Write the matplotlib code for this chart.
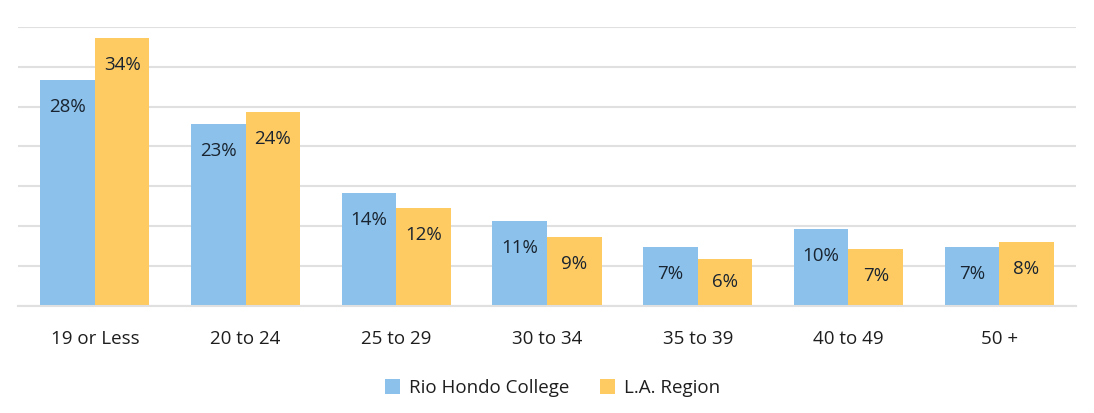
import matplotlib
matplotlib.use("Agg")
import matplotlib.pyplot as plt
import numpy as np

categories = ["19 or Less", "20 to 24", "25 to 29", "30 to 34", "35 to 39", "40 to 49", "50 +"]
rio_hondo = [28.3, 22.8, 14.2, 10.6, 7.3, 9.6, 7.3]
la_region = [33.6, 24.3, 12.3, 8.6, 5.8, 7.1, 8.0]
rio_labels = ["28%", "23%", "14%", "11%", "7%", "10%", "7%"]
la_labels = ["34%", "24%", "12%", "9%", "6%", "7%", "8%"]
series_names = ["Rio Hondo College", "L.A. Region"]

BLUE = "#8BC1EA"
GOLD = "#FECB63"
TEXT = "#1a2430"
GRID = "#e0e0e0"

plt.rcParams["font.family"] = ["Open Sans", "DejaVu Sans"]

fig = plt.figure(figsize=(10.94, 4.13), dpi=100)
W, H = 1094, 413
ax = fig.add_axes([18 / W, 1 - 305.5 / H, (1076 - 18) / W, (305.5 - 27) / H])

x = np.arange(len(categories))
bw = 0.362
b1 = ax.bar(x - bw / 2, rio_hondo, bw, color=BLUE, label=series_names[0], zorder=3)
b2 = ax.bar(x + bw / 2, la_region, bw, color=GOLD, label=series_names[1], zorder=3)

ax.set_xlim(-0.51, len(categories) - 1 + 0.51)
ax.set_ylim(0, 35)
ax.set_yticks(np.arange(0, 36, 5))
ax.yaxis.grid(True, color=GRID, linewidth=1.5, zorder=0)
ax.set_axisbelow(True)
ax.tick_params(axis="y", left=False, labelleft=False)
ax.tick_params(axis="x", length=0, pad=18, labelsize=13.5, labelcolor="#1e1e1e")
ax.set_xticks(x)
ax.set_xticklabels(categories)
for s in ["top", "right", "left"]:
    ax.spines[s].set_visible(False)
ax.spines["bottom"].set_color(GRID)
ax.spines["bottom"].set_linewidth(1.5)
ax.spines["bottom"].set_zorder(4)

px_per_unit = (305.5 - 27) / 35.0
for bars, labels in ((b1, rio_labels), (b2, la_labels)):
    for rect, lab in zip(bars, labels):
        h = rect.get_height()
        off = min(27, h * px_per_unit / 2)
        ax.annotate(lab, (rect.get_x() + rect.get_width() / 2, h),
                    xytext=(0, -off), textcoords="offset pixels",
                    ha="center", va="center", fontsize=13.5, color=TEXT, zorder=5)

fig.legend(handles=[b1, b2], labels=series_names, loc="center",
           bbox_to_anchor=(0.505, 1 - 388 / H), ncol=2, frameon=False,
           fontsize=13.5, handlelength=0.8, handleheight=0.8, handletextpad=0.5,
           columnspacing=1.6, labelcolor="#1e1e1e")

fig.savefig("out.png", dpi=100, facecolor="white")
